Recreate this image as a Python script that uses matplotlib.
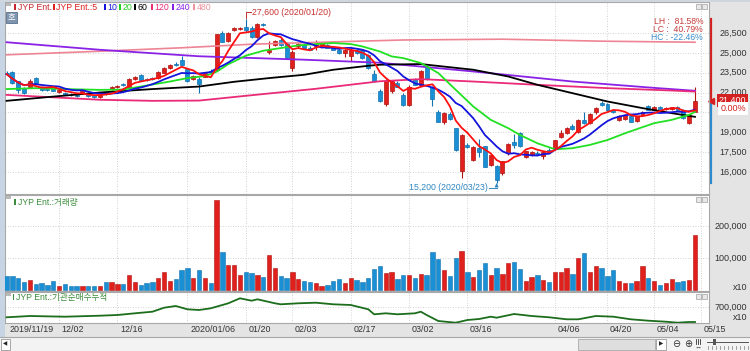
import numpy as np
import pandas as pd
import matplotlib
matplotlib.use('Agg')
import matplotlib.pyplot as plt
from matplotlib import transforms
from matplotlib.patches import Rectangle

plt.rcParams['font.family'] = ['Liberation Sans', 'DejaVu Sans', 'Noto Sans CJK KR']

# ---- data (JYP Ent., daily, 2019/11/19 - 2020/05/15) ----
opens = [23500, 23550, 22850, 22350, 22450, 23100, 22350, 22250, 22300, 22050,
         21950, 21850, 21850, 21950, 21950, 21800, 21650, 22000, 22250, 22400,
         22650, 22450, 23000, 23350, 23000, 23100, 23100, 23500, 23850, 24200,
         24450, 23800, 23000, 23050, 23200, 23650, 23700, 26500, 25900, 26750,
         26800, 26950, 26900, 26200, 27200, 25100, 25600, 26000, 25750, 23850,
         25500, 25600, 25400, 25550, 25550, 25600, 25400, 25250, 25000, 24750,
         25200, 25250, 24850, 23400, 22100, 21150, 22100, 22750, 21850, 21100,
         23000, 22600, 23950, 22450, 20550, 19750, 20350, 19300, 16050, 18050,
         16900, 17800, 17950, 16550, 16450, 15900, 17400, 18300, 18950, 17150,
         17300, 17450, 17200, 17700, 17800, 18650, 18950, 19500, 19050, 19950,
         19700, 20500, 21250, 21150, 20700, 19950, 20000, 20250, 19850, 20300,
         21000, 20700, 20950, 20750, 20750, 20950, 20700, 19700, 20550]
highs = [23600, 23600, 22900, 22450, 23000, 23200, 22500, 22350, 22400, 22250,
         22050, 21950, 21900, 22150, 22050, 21850, 21900, 22050, 22500, 22600,
         22750, 23100, 23250, 23400, 23100, 23150, 23600, 23950, 24200, 24300,
         24800, 23850, 23300, 23150, 23550, 23750, 26450, 26650, 26550, 26950,
         26950, 27600, 27000, 27250, 27300, 25900, 26000, 26100, 25800, 25200,
         25750, 25700, 25500, 26000, 25850, 25700, 25450, 25300, 25300, 25350,
         25300, 25300, 24900, 23700, 22250, 23000, 22950, 22850, 21950, 22550,
         23100, 23700, 24000, 22500, 20650, 20500, 20500, 19350, 18900, 18200,
         18000, 18500, 18000, 17350, 16500, 16850, 18200, 18850, 19000, 17600,
         17550, 17550, 17550, 17800, 18450, 19200, 19400, 19650, 20000, 20500,
         20450, 20900, 21350, 21200, 20800, 20300, 20400, 20300, 20250, 20600,
         21050, 21000, 21000, 20900, 20950, 21000, 20750, 20350, 22450]
lows = [23300, 22650, 21950, 21900, 22350, 22650, 22150, 22100, 22100, 21950,
        21800, 21750, 21700, 21900, 21700, 21600, 21600, 21850, 22200, 22350,
        22500, 22400, 22950, 22900, 22850, 22950, 23050, 23450, 23800, 24050,
        24050, 22800, 22950, 22000, 23150, 23450, 23600, 25800, 25800, 26650,
        26700, 26600, 26150, 26100, 27000, 24950, 25500, 25550, 24550, 23600,
        25400, 25300, 25200, 25200, 25500, 25350, 25200, 24950, 24700, 24400,
        24950, 24550, 23800, 22800, 21300, 21000, 22000, 22400, 21000, 21000,
        22550, 22500, 22950, 21000, 19750, 19650, 19900, 17600, 15550, 17800,
        16800, 17100, 16350, 16450, 15200, 15750, 17300, 17850, 17900, 17050,
        17200, 17300, 16950, 17450, 17700, 18550, 18850, 19150, 18950, 19650,
        19600, 20400, 21000, 20600, 20450, 19850, 19900, 19750, 19750, 20250,
        20650, 20650, 20650, 20700, 20700, 20650, 20000, 19650, 20500]
closes = [23400, 22700, 22200, 21950, 22900, 22700, 22200, 22200, 22150, 22200,
          21850, 21800, 21750, 22100, 21750, 21650, 21850, 21950, 22450, 22500,
          22550, 23050, 23150, 22950, 22950, 23000, 23550, 23900, 24100, 24100,
          24100, 22850, 23250, 22650, 23500, 23550, 26400, 25850, 26500, 26850,
          26850, 26700, 26200, 27200, 27100, 25200, 25900, 25600, 24600, 25100,
          25650, 25400, 25250, 25650, 25750, 25400, 25250, 25000, 25250, 25250,
          25000, 24600, 23850, 22850, 21350, 22900, 22850, 22450, 21100, 22450,
          22600, 23600, 23000, 21500, 19800, 20450, 20000, 17650, 18800, 17900,
          17900, 17500, 16400, 17300, 15400, 16800, 18150, 18050, 17950, 17550,
          17500, 17350, 17500, 17550, 18400, 18950, 19300, 19250, 19950, 19700,
          20400, 20850, 21050, 20650, 20500, 20250, 20300, 19800, 20200, 20550,
          20700, 20950, 20700, 20850, 20900, 20700, 20050, 20300, 21400]
volume = [45, 43, 38, 25, 32, 19, 23, 16, 29, 13, 19, 13, 13, 11, 11, 11, 11, 25, 25, 19,
          19, 46, 25, 17, 23, 25, 38, 57, 29, 34, 61, 68, 36, 61, 38, 23, 280, 119, 78, 78,
          46, 57, 53, 46, 40, 110, 68, 44, 36, 57, 34, 27, 25, 21, 11, 15, 27, 34, 21, 38,
          31, 25, 38, 66, 75, 54, 56, 34, 48, 46, 38, 49, 46, 119, 96, 61, 43, 100, 123, 57,
          41, 63, 83, 47, 68, 49, 83, 87, 66, 27, 40, 46, 31, 25, 57, 57, 68, 49, 100, 117,
          55, 75, 68, 43, 61, 29, 22, 23, 29, 76, 36, 27, 17, 23, 34, 25, 27, 32, 173]
volume = [v * 1000 for v in volume]

# longer moving averages, read at sample days
ma20_day = [0, 5, 10, 16, 20, 23, 28, 31, 34, 36, 38, 41, 44, 47, 50, 53, 56, 59, 61, 64,
            66, 68, 71, 74, 77, 80, 83, 86, 88, 91, 94, 97, 100, 103, 106, 109, 111, 114, 117, 118]
ma20_val = [22270, 22340, 22270, 22210, 22230, 22460, 22840, 23100, 23250, 23580, 24150, 24790,
            25170, 25370, 25570, 25670, 25750, 25670, 25490, 25110, 24740, 24610, 24240, 23480,
            22210, 20950, 19940, 19310, 18800, 18170, 17720, 17800, 18050, 18420, 18930, 19390,
            19690, 19940, 20320, 20550]
ma60_day = [0, 8, 16, 25, 33, 39, 45, 51, 56, 62, 64, 71, 80, 86, 91, 97, 103, 109, 114, 118]
ma60_val = [21380, 21700, 22010, 22270, 22460, 22820, 23100, 23350, 23730, 24030, 24110, 24160,
            23730, 23220, 22590, 21960, 21330, 20830, 20450, 20170]
ma120_day = [0, 16, 25, 33, 41, 53, 64, 71, 80, 91, 103, 114, 118]
ma120_val = [21830, 21460, 21380, 21400, 21760, 22290, 22860, 23020, 22840, 22590, 22340, 22160, 22080]
ma240_day = [0, 16, 33, 51, 64, 80, 97, 111, 118]
ma240_val = [25810, 25240, 24750, 24490, 24260, 23600, 22840, 22360, 22140]
ma480_day = [0, 16, 30, 42, 53, 68, 85, 102, 118]
ma480_val = [24860, 25130, 25390, 25660, 25800, 25980, 26040, 25890, 25810]

# institutional net buying, cumulative (x10)
inst_day = [0, 4, 10, 16, 19, 22, 25, 27, 29, 31, 33, 35, 38, 40, 42, 43, 46, 47, 50, 53,
            56, 59, 62, 63, 65, 67, 70, 71, 72, 74, 77, 79, 81, 83, 84, 87, 90, 93, 96, 98,
            101, 104, 107, 110, 113, 115, 117, 118]
inst_val = [597000, 610000, 603000, 613000, 620000, 637000, 653000, 693000, 710000, 677000,
            670000, 687000, 737000, 787000, 763000, 777000, 737000, 727000, 737000, 743000,
            727000, 720000, 677000, 627000, 637000, 627000, 637000, 653000, 620000, 560000,
            543000, 570000, 580000, 603000, 593000, 630000, 610000, 597000, 577000, 577000,
            610000, 603000, 577000, 563000, 553000, 543000, 550000, 550000]

date_idx = [0, 9, 19, 31, 41, 49, 59, 69, 79, 94, 103, 111, 119]
date_lbl = ['2019/11/19', '12/02', '12/16', '2020/01/06', '01/20', '02/03', '02/17',
            '03/02', '03/16', '04/06', '04/20', '05/04', '05/15']
price_ticks = [26500, 25000, 23500, 22000, 20500, 19000, 17500, 16000]

o = np.array(opens); h = np.array(highs); l = np.array(lows); c = np.array(closes)
n = len(c)
x = np.arange(n)
ma5 = pd.Series(c).rolling(5, min_periods=1).mean()
ma10 = pd.Series(c).rolling(10, min_periods=1).mean()

W, H = 750, 351
fig = plt.figure(figsize=(W / 100, H / 100), dpi=100, facecolor='#e4e4e4')


def fx(px):
    return px / W


def fy(py):
    return 1 - py / H


def px_rect(x0, y0, x1, y1, **kw):
    r = Rectangle((fx(x0), fy(y1)), (x1 - x0) / W, (y1 - y0) / H, transform=fig.transFigure, **kw)
    fig.patches.append(r)
    return r


def px_line(xs, ys, **kw):
    fig.lines.append(plt.Line2D([fx(v) for v in xs], [fy(v) for v in ys],
                                transform=fig.transFigure, **kw))


def px_axes(x0, y0, x1, y1):
    a = fig.add_axes([fx(x0), fy(y1), (x1 - x0) / W, (y1 - y0) / H], facecolor='white')
    a.set_xticks([]); a.set_yticks([])
    for s in a.spines.values():
        s.set_color('#a8a8a8'); s.set_linewidth(0.8)
    a.set_xlim(-0.27, 120.4)
    return a


# frame pieces
px_rect(0, 0, 5, 337, fc='#c6d4e4', ec='none')
px_rect(0, 0, 750, 2, fc='#cfd6de', ec='none')
px_rect(0, 337, 750, 351, fc='#f3f3f3', ec='none')

axp = px_axes(5, 2, 709, 194)
axv = px_axes(5, 195, 709, 291)
axi = px_axes(5, 292, 709, 323)
axp.set_ylim(14337, 28852)
axv.set_ylim(-3125, 296875)
axi.set_ylim(540000, 850000)

grid_kw = dict(color='#c4c4c4', lw=0.6, ls=(0, (1, 2)), zorder=0)
for a in (axp, axv, axi):
    for d in date_idx[1:]:
        a.axvline(d, **grid_kw)
for t in price_ticks:
    axp.axhline(t, **grid_kw)
for t in (100000, 200000):
    axv.axhline(t, **grid_kw)
axi.axhline(700000, **grid_kw)

# candles
up = c >= o
face = np.where(up, '#e0201c', '#1a8fd4')
edge = np.where(up, '#b01410', '#1172b0')
axp.vlines(x, l, h, colors=edge, lw=0.8, zorder=2)
axp.bar(x, np.maximum(np.abs(c - o), 45), bottom=np.minimum(o, c), width=0.68,
        color=face, edgecolor=edge, linewidth=0.5, zorder=3)

# moving averages
axp.plot(ma480_day, ma480_val, color='#ee8494', lw=1.2, zorder=4)
axp.plot(ma240_day, ma240_val, color='#8a22e6', lw=1.3, zorder=4)
axp.plot(ma120_day, ma120_val, color='#ea2a78', lw=1.3, zorder=4)
axp.plot(ma60_day, ma60_val, color='#000000', lw=1.3, zorder=4)
axp.plot(ma20_day, ma20_val, color='#22e022', lw=1.3, zorder=5)
axp.plot(x, ma10, color='#1414dc', lw=1.3, zorder=5)
axp.plot(x, ma5, color='#ff1010', lw=1.3, zorder=6)

# high / low markers
hi_i = int(np.argmax(h)); hi = h[hi_i]
lo_i = int(np.argmin(l)); lo = l[lo_i]
axp.plot([hi_i, hi_i, hi_i + 0.9], [hi + 60, hi + 470, hi + 470], color='#c83232', lw=0.7, zorder=7)
axp.text(hi_i + 1.1, hi + 470, f'{hi:,} (2020/01/20)', color='#c83232', fontsize=6.3,
         va='center', ha='left', zorder=7)
axp.plot([lo_i - 1.3, lo_i], [lo - 400, lo - 400], color='#2e86c1', lw=0.7, zorder=7)
axp.annotate('', xy=(lo_i, lo - 40), xytext=(lo_i, lo - 400),
             arrowprops=dict(arrowstyle='-|>', color='#2e86c1', lw=0.7, mutation_scale=5))
axp.text(lo_i - 1.5, lo - 400, f'{lo:,} (2020/03/23)', color='#2e86c1', fontsize=6.3,
         va='center', ha='right', zorder=7)

# LH / LC / HC box
last = c[-1]
lh = (hi / lo - 1) * 100
lc = (last / lo - 1) * 100
hc = (last / hi - 1) * 100
for k, (s, col) in enumerate([(f'LH :  {lh:.2f}%', '#c83c3c'), (f'LC :  {lc:.2f}%', '#c83c3c'),
                              (f'HC : {hc:.2f}%', '#3a8ccc')]):
    fig.text(fx(703), fy(22 + 8 * k), s, color=col, fontsize=6.2, ha='right', va='center')

# right price axis (20,500 sits under the current-price boxes, as in the HTS screen)
tp = transforms.blended_transform_factory(fig.transFigure, axp.transData)
for t in price_ticks:
    if 0 < last - t < 1200:
        continue
    axp.text(fx(747), t, f'{t:,}', transform=tp, ha='right', va='center', fontsize=6.5,
             color='#333333', clip_on=False)
axp.plot([fx(711), fx(711)], [last, hi], transform=tp, color='#d42020', lw=1.6, clip_on=False)
axp.plot([fx(711), fx(711)], [lo, last], transform=tp, color='#2a8ad0', lw=1.6, clip_on=False)
axp.plot([fx(710.5)], [last], transform=tp, marker='<', color='#d42020', ms=4, clip_on=False)
axp.text(fx(746), last, f'{last:,}', transform=tp, ha='right', va='center', fontsize=6.5,
         color='white', clip_on=False, zorder=10,
         bbox=dict(boxstyle='square,pad=0.22', fc='#d42020', ec='none'))
axp.text(fx(746), last - 610, '0.00%', transform=tp, ha='right', va='center', fontsize=6.5,
         color='#d42020', clip_on=False, zorder=10,
         bbox=dict(boxstyle='square,pad=0.22', fc='white', ec='none'))

# volume panel
axv.bar(x, volume, width=0.74, color=face, edgecolor=edge, linewidth=0.4, zorder=3)
tv = transforms.blended_transform_factory(fig.transFigure, axv.transData)
for t, s in ((200000, '200,000'), (100000, '100,000'), (9375, 'x10')):
    axv.text(fx(747), t, s, transform=tv, ha='right', va='center', fontsize=6.5,
             color='#333333', clip_on=False)

# institutional cumulative panel
axi.plot(inst_day, inst_val, color='#1c6e1c', lw=1.3, zorder=3)
ti = transforms.blended_transform_factory(fig.transFigure, axi.transData)
for t, s in ((700000, '700,000'), (590000, 'x10')):
    axi.text(fx(747), t, s, transform=ti, ha='right', va='center', fontsize=6.5,
             color='#333333', clip_on=False)

# header legend
legend_items = [('JYP Ent.', '#c8282d', 14), ('JYP Ent.:5', '#e0201c', 53), ('10', '#1414dc', 104),
                ('20', '#22d022', 119), ('60', '#000000', 134), ('120', '#e8307a', 151),
                ('240', '#8a22e6', 172), ('480', '#f0909c', 193)]
for s, col, px in legend_items:
    px_rect(px, 4, px + 1.8, 10, fc=col, ec='none')
    fig.text(fx(px + 3.5), fy(7.3), s, color=col, fontsize=6.3, ha='left', va='center')

# panel titles
px_rect(14, 199, 15.8, 205, fc='#3c8c3c', ec='none')
fig.text(fx(17.5), fy(202.3), 'JYP Ent.:거래량', color='#3c8c3c', fontsize=6.2, ha='left', va='center')
px_rect(12.5, 294, 14.3, 300, fc='#3c8c3c', ec='none')
fig.text(fx(16.5), fy(297.3), 'JYP Ent.:기관순매수누적', color='#3c8c3c', fontsize=6.2,
         ha='left', va='center')

# small panel icons
for y0 in (3, 196, 293):
    px_rect(6, y0, 11, y0 + 2.5, fc='#b8b8b8', ec='none')
    px_rect(696, y0 + 1, 701, y0 + 6, fc='#e8e8e8', ec='#a0a0a0', lw=0.5)
    px_rect(702, y0 + 1, 707, y0 + 6, fc='#e8e8e8', ec='#a0a0a0', lw=0.5)

# "호" button
px_rect(5.5, 12, 17, 22.5, fc='#7f95b0', ec='#58708c', lw=0.6)
fig.text(fx(11.3), fy(17.3), '호', color='white', fontsize=6, ha='center', va='center')

# date axis labels
td = transforms.blended_transform_factory(axp.transData, fig.transFigure)
for d, s in zip(date_idx, date_lbl):
    axp.text(d + 0.45, fy(329.5), s, transform=td, ha='left', va='center', fontsize=6.4,
             color='#333333', clip_on=False)

# bottom scroll bar
px_line([0, 750], [337, 337], color='#a8a8a8', lw=0.8)
px_rect(1, 338.5, 10, 349.5, fc='white', ec='#9a9a9a', lw=0.6)
fig.text(fx(5.5), fy(344), '◀', fontsize=4, ha='center', va='center', color='#222222')
px_rect(578, 338.5, 655, 349.5, fc='#dedede', ec='#a8a8a8', lw=0.6)
px_rect(656, 338.5, 666, 349.5, fc='white', ec='#9a9a9a', lw=0.6)
fig.text(fx(661), fy(344), '▶', fontsize=4, ha='center', va='center', color='#222222')
fig.text(fx(676), fy(344), '⊖', fontsize=7, ha='center', va='center', color='#333333')
fig.text(fx(688), fy(344), '⊕', fontsize=7, ha='center', va='center', color='#333333')
# bar-width icon: three short bars over a double arrow
for k in range(3):
    px_line([696 + 2.2 * k, 696 + 2.2 * k], [339, 343.5], color='#333333', lw=0.6)
fig.text(fx(698.2), fy(347), '↔', fontsize=5, ha='center', va='center', color='#333333')
px_line([707, 748], [342, 342], color='#555555', lw=0.7)
px_rect(713, 339, 715.5, 345, fc='#555555', ec='none')
for k in range(11):
    px_line([708 + 4 * k, 708 + 4 * k], [346, 349], color='#777777', lw=0.5)

fig.savefig('out.png', dpi=100, facecolor=fig.get_facecolor())
